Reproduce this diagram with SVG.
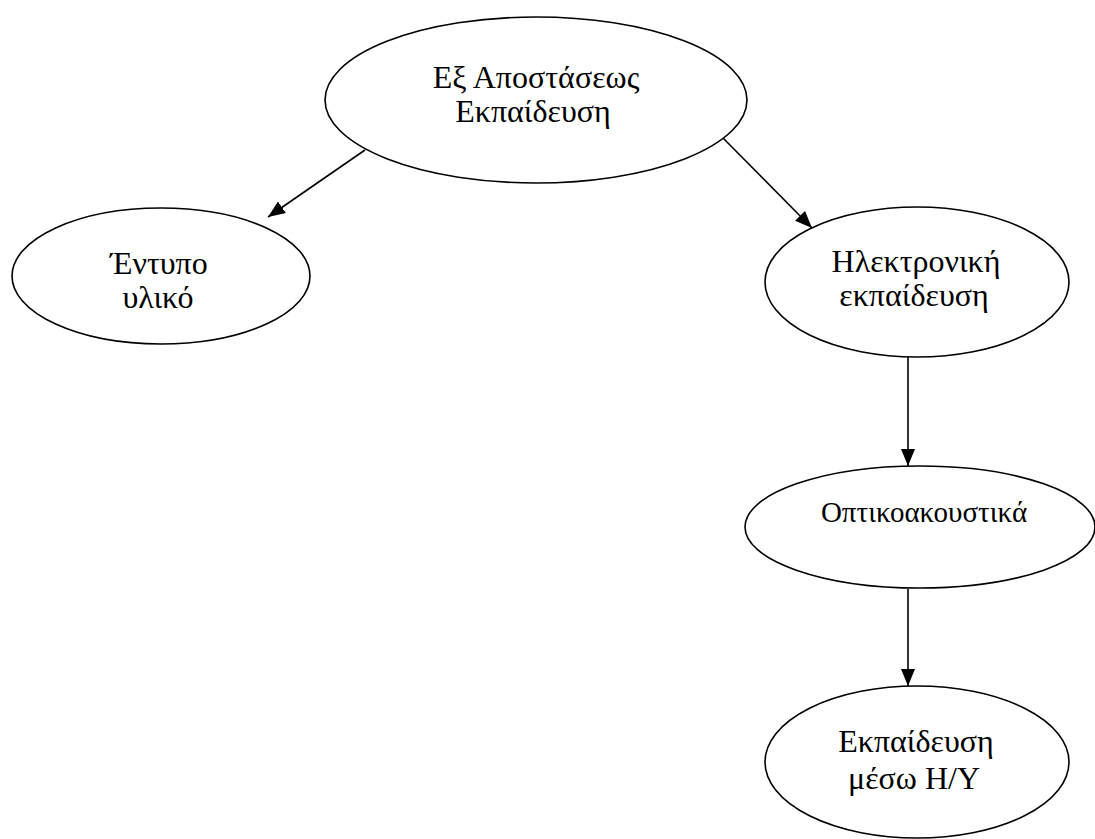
<svg xmlns="http://www.w3.org/2000/svg" width="1095" height="839" viewBox="0 0 1095 839">
<style>
.n{fill:#fff;stroke:#000;stroke-width:1.6}
.t{font-family:"Liberation Serif","Times New Roman",serif;font-size:32px;fill:#000;text-anchor:middle}
.s{font-size:29px}
.c{stroke:#000;stroke-width:1.6;fill:none;marker-end:url(#ah)}
</style>
<defs>
<marker id="ah" markerUnits="userSpaceOnUse" markerWidth="18" markerHeight="15" refX="17" refY="7" orient="auto">
<path d="M0,0 L17,7 L0,14 z" fill="#000"/>
</marker>
</defs>
<rect width="1095" height="839" fill="#fff"/>
<g id="connectors">
<line class="c" x1="365" y1="150" x2="268" y2="217"/>
<line class="c" x1="723" y1="138" x2="812" y2="228"/>
<line class="c" x1="908" y1="357" x2="908" y2="466"/>
<line class="c" x1="908" y1="589" x2="908" y2="686"/>
</g>
<g id="n-root">
<ellipse class="n" cx="536" cy="100" rx="211" ry="83"/>
<text class="t" x="536" y="88">Εξ Αποστάσεως</text>
<text class="t" x="533" y="122">Εκπαίδευση</text>
</g>
<g id="n-print">
<ellipse class="n" cx="161" cy="276" rx="149" ry="68"/>
<text class="t" x="159" y="274">Έντυπο</text>
<text class="t" x="158" y="308">υλικό</text>
</g>
<g id="n-elearn">
<ellipse class="n" cx="917" cy="282" rx="152" ry="75"/>
<text class="t" x="916" y="272">Ηλεκτρονική</text>
<text class="t" x="914" y="306">εκπαίδευση</text>
</g>
<g id="n-av">
<ellipse class="n" cx="920" cy="527" rx="175" ry="61"/>
<text class="t s" x="924" y="522">Οπτικοακουστικά</text>
</g>
<g id="n-pc">
<ellipse class="n" cx="917" cy="762" rx="152" ry="76"/>
<text class="t" x="916" y="752">Εκπαίδευση</text>
<text class="t" x="914" y="789">μέσω Η/Υ</text>
</g>
</svg>
